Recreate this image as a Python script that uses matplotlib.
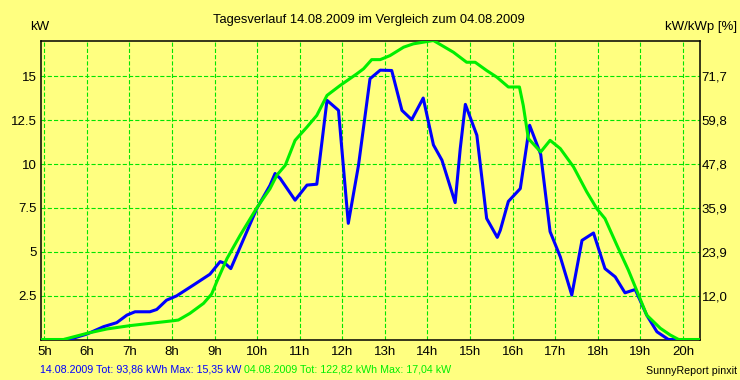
import matplotlib
matplotlib.use("Agg")
import matplotlib.pyplot as plt

plt.rcParams['font.family'] = ['Liberation Sans', 'DejaVu Sans']
plt.rcParams['lines.scale_dashes'] = False

# 14.08.2009 (blue), time in hours, power in kW
day_times = [5.5, 5.58, 6.0, 6.39, 6.70, 6.94, 7.13, 7.48, 7.64, 7.87, 8.11, 8.50,
             8.89, 9.13, 9.25, 9.38, 9.60, 9.99, 10.30, 10.42, 10.54, 10.89, 11.17,
             11.40, 11.64, 11.91, 12.14, 12.38, 12.65, 12.89, 13.16, 13.40, 13.63,
             13.90, 14.14, 14.34, 14.65, 14.77, 14.89, 15.16, 15.39, 15.64, 15.71,
             15.90, 16.18, 16.40, 16.66, 16.88, 17.12, 17.39, 17.63, 17.90, 18.17,
             18.41, 18.64, 18.88, 19.15, 19.39, 19.66, 19.86]
day_kw = [0.0, 0.0, 0.31, 0.73, 0.96, 1.39, 1.58, 1.58, 1.71, 2.24, 2.49, 3.10,
          3.72, 4.44, 4.33, 4.04, 5.27, 7.46, 8.78, 9.46, 9.18, 7.94, 8.80,
          8.85, 13.63, 13.06, 6.62, 9.93, 14.86, 15.35, 15.33, 13.06, 12.53,
          13.76, 11.09, 10.22, 7.80, 10.88, 13.40, 11.64, 6.90, 5.82, 6.22,
          7.87, 8.60, 12.21, 10.55, 6.15, 4.71, 2.53, 5.65, 6.07, 4.04,
          3.57, 2.66, 2.85, 1.39, 0.44, 0.0, 0.0]

# 04.08.2009 (green)
ref_times = [4.91, 5.45, 6.0, 6.47, 7.01, 7.48, 8.03, 8.15, 8.42, 8.74, 8.93, 9.05,
             9.29, 9.60, 9.99, 10.30, 10.46, 10.66, 10.89, 11.17, 11.40, 11.64,
             11.95, 12.34, 12.50, 12.69, 12.89, 13.12, 13.44, 13.67, 13.99, 14.14,
             14.61, 14.92, 15.12, 15.39, 15.63, 15.90, 16.16, 16.25, 16.37, 16.66,
             16.88, 17.12, 17.43, 17.74, 17.98, 18.17, 18.45, 18.72, 18.96, 19.15,
             19.47, 19.70, 19.90, 20.39]
ref_kw = [0.0, 0.0, 0.35, 0.60, 0.79, 0.92, 1.07, 1.11, 1.49, 2.06, 2.59, 3.29,
          4.61, 5.94, 7.50, 8.59, 9.36, 9.93, 11.35, 12.11, 12.77, 13.91,
          14.48, 15.14, 15.43, 15.95, 15.95, 16.18, 16.66, 16.85, 16.98, 17.04,
          16.37, 15.80, 15.80, 15.33, 14.95, 14.39, 14.39, 13.34, 11.45, 10.69,
          11.35, 10.88, 9.84, 8.42, 7.45, 6.89, 5.37, 3.95, 2.53, 1.39,
          0.64, 0.26, 0.0, 0.0]

hour_ticks = list(range(5, 21))
hour_labels = [f"{h}h" for h in hour_ticks]
kw_ticks = [2.5, 5, 7.5, 10, 12.5, 15]
kw_labels = ["2.5", "5", "7.5", "10", "12.5", "15"]
pct_labels = ["12,0", "23,9", "35,9", "47,8", "59,8", "71,7"]

bg = '#ffff80'
blue = '#0000ff'
green = '#00ee00'

fig = plt.figure(figsize=(7.4, 3.8), dpi=100, facecolor=bg)
W, H = 740, 380
ax = fig.add_axes([40.5 / W, (H - 339.5) / H, 659 / W, 299 / H], facecolor=bg)

ax.plot(day_times, day_kw, color=blue, lw=2.2, zorder=3)
ax.plot(ref_times, ref_kw, color=green, lw=2.2, zorder=4)

ax.set_xlim(4.91, 20.39)
ax.set_ylim(0, 17.04)
ax.set_xticks(hour_ticks)
ax.set_xticklabels(hour_labels)
ax.set_yticks(kw_ticks)
ax.set_yticklabels(kw_labels)
ax.tick_params(length=0, labelsize=9.5, colors='black')
ax.tick_params(axis='x', pad=5)
ax.tick_params(axis='y', pad=3)
ax.grid(True, color='#00e600', lw=0.8, linestyle=(0, (3.0, 1.5)), zorder=1)
for sp in ax.spines.values():
    sp.set_linewidth(1.1)
    sp.set_color('black')

ax2 = ax.twinx()
ax2.set_ylim(0, 17.04)
ax2.set_yticks(kw_ticks)
ax2.set_yticklabels(pct_labels)
ax2.tick_params(length=0, labelsize=9.5, pad=1.5)
for sp in ax2.spines.values():
    sp.set_visible(False)

fig.text(369 / W, 1 - 20 / H, "Tagesverlauf 14.08.2009 im Vergleich zum 04.08.2009",
         ha='center', va='center', fontsize=9.25)
fig.text(30 / W, 1 - 27 / H, "kW", ha='left', va='center', fontsize=9.5)
fig.text(737 / W, 1 - 27 / H, "kW/kWp [%]", ha='right', va='center', fontsize=9.5)

t1 = fig.text(40 / W, 1 - 369 / H, "14.08.2009 Tot: 93,86 kWh Max: 15,35 kW",
              ha='left', va='center', fontsize=7.7, color=blue)
fig.canvas.draw()
bb = t1.get_window_extent()
fig.text((bb.x1 + 2.5) / W, 1 - 369 / H, "04.08.2009 Tot: 122,82 kWh Max: 17,04 kW",
         ha='left', va='center', fontsize=7.7, color=green)
fig.text(737 / W, 1 - 371 / H, "SunnyReport pinxit", ha='right', va='center', fontsize=7.7)

fig.savefig("out.png", dpi=100, facecolor=bg)
